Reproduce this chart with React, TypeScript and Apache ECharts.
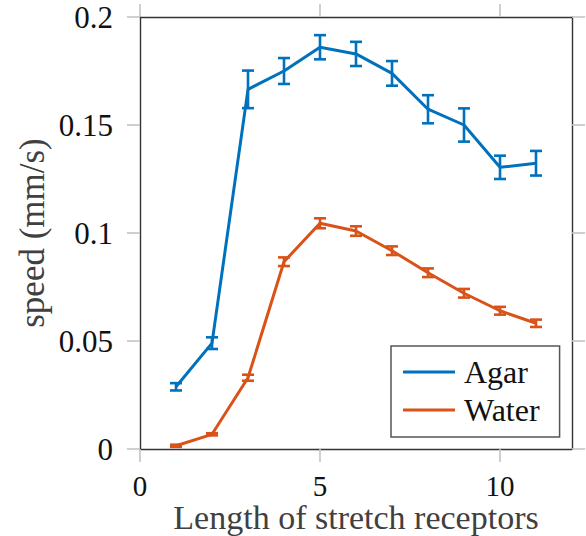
import React, { useEffect, useRef } from "react";
import * as echarts from "echarts";

const lengths = [1, 2, 3, 4, 5, 6, 7, 8, 9, 10, 11];
const agarSpeed = [0.0288, 0.049, 0.1665, 0.175, 0.186, 0.1829, 0.1739, 0.1573, 0.15, 0.1304, 0.1323];
const agarErr = [0.0017, 0.0027, 0.0087, 0.006, 0.0056, 0.0056, 0.0057, 0.0065, 0.0077, 0.0054, 0.0057];
const waterSpeed = [0.0015, 0.0068, 0.033, 0.0867, 0.1045, 0.1009, 0.0918, 0.0816, 0.0721, 0.064, 0.0582];
const waterErr = [0.0005, 0.0005, 0.0014, 0.002, 0.0023, 0.0022, 0.002, 0.002, 0.002, 0.0018, 0.0017];
const xTicks = [0, 5, 10];
const yTicks = [0, 0.05, 0.1, 0.15, 0.2];

const BLUE = "#0072BD";
const ORANGE = "#D95319";
const FONT = "Liberation Serif, Liberation Sans, sans-serif";
const TICK = { show: true, inside: false, length: 13, lineStyle: { color: "#c4c4c4", width: 1.6 } };
const AXLINE = { show: true, onZero: false, lineStyle: { color: "#333", width: 1.4 } };

function errSeries(name: string, vals: number[], errs: number[], color: string) {
  return {
    name,
    type: "custom",
    xAxisIndex: 0,
    yAxisIndex: 0,
    z: 4,
    encode: { x: 0, y: [1, 2] },
    data: lengths.map((x, i) => [x, vals[i] - errs[i], vals[i] + errs[i]]),
    renderItem: (params: any, api: any) => {
      const x = api.value(0);
      const lo = api.coord([x, api.value(1)]);
      const hi = api.coord([x, api.value(2)]);
      const w = 6;
      const st = { stroke: color, lineWidth: 2.6 };
      return {
        type: "group",
        children: [
          { type: "line", shape: { x1: lo[0], y1: lo[1], x2: hi[0], y2: hi[1] }, style: st },
          { type: "line", shape: { x1: lo[0] - w, y1: lo[1], x2: lo[0] + w, y2: lo[1] }, style: st },
          { type: "line", shape: { x1: hi[0] - w, y1: hi[1], x2: hi[0] + w, y2: hi[1] }, style: st },
        ],
      };
    },
  };
}

export default function App() {
  const ref = useRef<HTMLDivElement>(null);
  useEffect(() => {
    if (!ref.current) return;
    const chart = echarts.init(ref.current, undefined, { renderer: "svg" });
    chart.setOption({
      animation: false,
      backgroundColor: "#fff",
      textStyle: { fontFamily: FONT },
      grid: { left: 140, top: 17, right: 14, bottom: 87, containLabel: false, outerBoundsMode: "none" },
      xAxis: [
        {
          type: "value",
          min: 0,
          max: 12,
          position: "bottom",
          name: "Length of stretch receptors",
          nameLocation: "middle",
          nameGap: 53,
          nameMoveOverlap: false,
          nameTextStyle: { fontFamily: FONT, fontSize: 34, color: "#404040", lineHeight: 30 },
          axisLine: AXLINE,
          axisTick: { ...TICK, customValues: xTicks },
          axisLabel: { customValues: xTicks, fontFamily: FONT, fontSize: 29, color: "#111", margin: 22, lineHeight: 29 },
          splitLine: { show: false },
        },
        {
          type: "value",
          min: 0,
          max: 12,
          position: "top",
          axisLine: AXLINE,
          axisTick: { ...TICK, customValues: xTicks },
          axisLabel: { show: false },
          splitLine: { show: false },
        },
      ],
      yAxis: [
        {
          type: "value",
          min: 0,
          max: 0.2,
          position: "left",
          name: "speed (mm/s)",
          nameLocation: "middle",
          nameGap: 90,
          nameMoveOverlap: false,
          nameTextStyle: { fontFamily: FONT, fontSize: 35, color: "#404040", lineHeight: 35 },
          axisLine: AXLINE,
          axisTick: { ...TICK, customValues: yTicks },
          axisLabel: {
            customValues: yTicks,
            fontFamily: FONT,
            fontSize: 31,
            color: "#111",
            margin: 27,
            formatter: (v: number) => String(+v.toFixed(2)),
          },
          splitLine: { show: false },
        },
        {
          type: "value",
          min: 0,
          max: 0.2,
          position: "right",
          axisLine: AXLINE,
          axisTick: { ...TICK, customValues: yTicks },
          axisLabel: { show: false },
          splitLine: { show: false },
        },
      ],
      legend: {
        data: ["Agar", "Water"],
        orient: "vertical",
        left: 391,
        top: 346,
        backgroundColor: "#fff",
        borderColor: "#555",
        borderWidth: 1.5,
        borderRadius: 0,
        padding: [7, 20, 8, 12],
        itemGap: 0,
        itemWidth: 52,
        itemHeight: 3,
        icon: "rect",
        textStyle: { fontFamily: FONT, fontSize: 32, lineHeight: 38, color: "#111", padding: [0, 0, 0, 4] },
      },
      series: [
        {
          name: "Agar",
          type: "line",
          data: lengths.map((x, i) => [x, agarSpeed[i]]),
          symbol: "none",
          color: BLUE,
          lineStyle: { color: BLUE, width: 3 },
          z: 3,
        },
        {
          name: "Water",
          type: "line",
          data: lengths.map((x, i) => [x, waterSpeed[i]]),
          symbol: "none",
          color: ORANGE,
          lineStyle: { color: ORANGE, width: 3 },
          z: 3,
        },
        errSeries("Agar error", agarSpeed, agarErr, BLUE),
        errSeries("Water error", waterSpeed, waterErr, ORANGE),
      ],
    });
    return () => chart.dispose();
  }, []);
  return <div ref={ref} style={{ position: "fixed", left: 0, top: 0, width: 586, height: 536 }} />;
}
